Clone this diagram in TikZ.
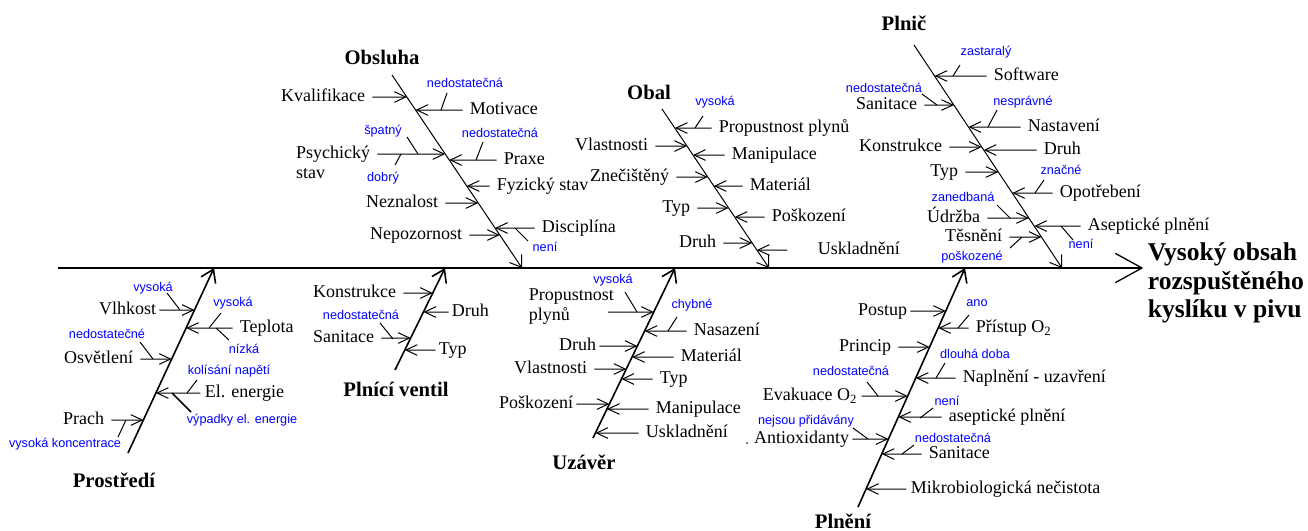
\documentclass[tikz,border=0pt]{standalone}
\usepackage{fontspec}
\setmainfont{Liberation Serif}
\newfontfamily\attrfont{Liberation Sans}
\usetikzlibrary{arrows.meta}

\tikzset{every picture/.style={line width=0.75pt}}
\tikzset{
	lbl/.style={inner sep=1pt, font=\fontsize{13.5}{15}\selectfont, text height=9.5pt, text depth=3pt},
	attr/.style={inner sep=1pt, text=blue, font=\attrfont\fontsize{9.5}{11}\selectfont, text height=7pt, text depth=2pt},
	bonetitle/.style={inner sep=1pt, font=\bfseries\fontsize{15.5}{18}\selectfont},
	effectlbl/.style={inner sep=1pt, align=left, font=\bfseries\fontsize{19.2}{21.4}\selectfont},
	spine/.style={line width=1pt, -{Straight Barb[length=20pt,width=22pt]}},
	bone/.style={-{Straight Barb[length=8pt,width=11pt]}},
	lbone/.style={line width=1.2pt, -{Straight Barb[length=9pt,width=12pt]}},
	cause/.style={-{Straight Barb[length=8.5pt,width=8pt]}, shorten <=4pt}
}

\begin{document}
\begin{tikzpicture}[x=0.75pt,y=0.75pt,yscale=-1,xscale=1]
	\useasboundingbox (0,0) rectangle (1308,531);
	
	% Effect and spine
	\node[effectlbl, anchor=west] (effect) at (1146,283) {Vysoký obsah\\rozspuštěného\\kyslíku v pivu};
	\coordinate (spA) at (58,268);
	\draw[spine, shorten >=2pt] (spA) -- (spA -| effect.west);
	
	%%%%%%%% Obsluha
	\coordinate (obsA) at (392,75);
	\coordinate (obsB) at (522,268);
	\draw[bone] (obsA) -- (obsB);
	\node[bonetitle] (obs) at (382,57) {Obsluha};
	% Text Node
	\node[lbl, anchor=east] (kval) at (367,97) {Kvalifikace};
	\node[lbl, anchor=east] (psy) at (372,154) {Psychický};
	\node[lbl, anchor=north west] (psy2) at (psy.south west) {stav};
	\node[lbl, anchor=east] (nezn) at (440,203) {Neznalost};
	\node[lbl, anchor=east] (nepoz) at (464,235) {Nepozornost};
	\node[lbl, anchor=west] (motiv) at (468,110) {Motivace};
	\node[lbl, anchor=west] (praxe) at (502,160) {Praxe};
	\node[lbl, anchor=west] (fyz) at (495,186) {Fyzický stav};
	\node[lbl, anchor=west] (disc) at (540,228) {Disciplína};
	\foreach \n in {kval,psy,nezn,nepoz,motiv,praxe,fyz,disc}
		\draw[cause] (\n) -- (intersection of obsA--obsB and \n.west--\n.east);
	% Attributes
	\draw (441,110) -- (447,93);
	\node[attr] (motivq) at (465,84) {nedostatečná};
	\draw (407,137) -- (418,154);
	\node[attr] (psyq) at (383,131) {špatný};
	\draw (401,154) -- (395,165);
	\node[attr] (psyqq) at (383,178) {dobrý};
	\draw (476,160) -- (483,142);
	\node[attr] (praxeq) at (500,134) {nedostatečná};
	\draw (515,228) -- (528,241);
	\node[attr] (discq) at (545,248) {není};
	
	%%%%%%%% Obal
	\coordinate (obalA) at (662,109);
	\coordinate (obalB) at (769,268);
	\draw[bone] (obalA) -- (obalB);
	\node[bonetitle] (obal) at (649,92) {Obal};
	% Text Node
	\node[lbl, anchor=east] (vlast) at (650,146) {Vlastnosti};
	\node[lbl, anchor=east] (znec) at (671,177) {Znečištěný};
	\node[lbl, anchor=east] (typa) at (692,208) {Typ};
	\node[lbl, anchor=east] (druha) at (718,243) {Druh};
	\node[lbl, anchor=west] (propa) at (717,128) {Propustnost plynů};
	\node[lbl, anchor=west] (manipa) at (730,155) {Manipulace};
	\node[lbl, anchor=west] (matera) at (748,186) {Materiál};
	\node[lbl, anchor=west] (poska) at (770,217) {Poškození};
	\node[lbl, anchor=west] (uskla) at (816,250) {Uskladnění};
	\foreach \n in {vlast,znec,typa,druha,propa,manipa,matera,poska}
		\draw[cause] (\n) -- (intersection of obalA--obalB and \n.west--\n.east);
	\draw[cause, shorten <=21.5pt] (uskla) -- (intersection of obalA--obalB and uskla.west--uskla.east);
	% Attributes
	\draw (695,128) -- (703,116);
	\node[attr] (propaq) at (715,102) {vysoká};
	
	%%%%%%%% Plnič
	\coordinate (plcA) at (914,45);
	\coordinate (plcB) at (1062,268);
	\draw[bone] (plcA) -- (plcB);
	\node[bonetitle] (plc) at (904,23) {Plnič};
	% Text Node
	\node[lbl, anchor=east] (sanitb) at (919,105) {Sanitace};
	\node[lbl, anchor=east] (konstb) at (944,147) {Konstrukce};
	\node[lbl, anchor=east] (typb) at (960,172) {Typ};
	\node[lbl, anchor=east] (udrz) at (982,218) {Údržba};
	\node[lbl, anchor=east] (tesn) at (1004,237) {Těsnění};
	\node[lbl, anchor=west] (softw) at (992,76) {Software};
	\node[lbl, anchor=west] (nastav) at (1026,127) {Nastavení};
	\node[lbl, anchor=west] (druhb) at (1042,150) {Druh};
	\node[lbl, anchor=west] (opotr) at (1058,193) {Opotřebení};
	\node[lbl, anchor=west] (aseptb) at (1086,226) {Aseptické plnění};
	\foreach \n in {sanitb,konstb,typb,udrz,tesn,softw,nastav,druhb,opotr,aseptb}
		\draw[cause] (\n) -- (intersection of plcA--plcB and \n.west--\n.east);
	% Attributes
	\draw (922,94) -- (937,105);
	\node[attr] (sanitbq) at (884,89) {nedostatečná};
	\draw (953,76) -- (960,65);
	\node[attr] (softwq) at (986,52) {zastaralý};
	\draw (988,127) -- (997,110);
	\node[attr] (nastavq) at (1023,102) {nesprávné};
	\draw (1035,193) -- (1044,180);
	\node[attr] (opotrq) at (1061,171) {značné};
	\draw (997,205) -- (1010,218);
	\node[attr] (udrzq) at (963,198) {zanedbaná};
	\draw (1061,226) -- (1073,240);
	\node[attr] (aseptbq) at (1081,245) {není};
	\draw (1010,248) -- (1022,237);
	\node[attr] (tesnq) at (972,257) {poškozené};
	
	%%%%%%%% Prostředí
	\coordinate (proA) at (128,453);
	\coordinate (proB) at (214,268);
	\draw[lbone] (proA) -- (proB);
	\node[bonetitle] (pro) at (114,480) {Prostředí};
	% Text Node
	\node[lbl, anchor=east] (vlhk) at (158,310) {Vlhkost};
	\node[lbl, anchor=east] (osvet) at (135,359) {Osvětlení};
	\node[lbl, anchor=east] (prach) at (106,420) {Prach};
	\node[lbl, anchor=west] (tepl) at (238,328) {Teplota};
	\node[lbl, anchor=west] (energ) at (203,393) {El. energie};
	\foreach \n in {osvet,prach,tepl}
		\draw[cause] (\n) -- (intersection of proA--proB and \n.west--\n.east);
	\draw[cause, shorten <=1pt] (vlhk) -- (intersection of proA--proB and vlhk.west--vlhk.east);
	\draw[cause, shorten <=2pt] (energ) -- (intersection of proA--proB and energ.west--energ.east);
	% Attributes
	\draw (167,293) -- (180,310);
	\node[attr] (vlhkq) at (153,288) {vysoká};
	\draw (140,342) -- (153,359);
	\node[attr] (osvetq) at (107,335) {nedostatečné};
	\draw (126,420) -- (118,437);
	\node[attr] (prachq) at (65,444) {vysoká koncentrace};
	\draw (209,328) -- (221,313);
	\node[attr] (teplq) at (233,303) {vysoká};
	\draw (216,328) -- (229,340);
	\node[attr] (teplqq) at (244,350) {nízká};
	\draw (187,393) -- (197,380);
	\node[attr] (energq) at (229,371) {kolísání napětí};
	\draw[line width=1.2pt] (172,393) -- (191,412);
	\node[attr] (energqq) at (242,420) {výpadky el. energie};
	
	%%%%%%%% Plnící ventil
	\coordinate (pvA) at (395,370);
	\coordinate (pvB) at (445,268);
	\draw[lbone] (pvA) -- (pvB);
	\node[bonetitle] (pv) at (396,389) {Plnící ventil};
	% Text Node
	\node[lbl, anchor=east] (konstc) at (398,293) {Konstrukce};
	\node[lbl, anchor=east] (sanitc) at (376,338) {Sanitace};
	\node[lbl, anchor=west] (druhc) at (450,312) {Druh};
	\node[lbl, anchor=west] (typc) at (437,350) {Typ};
	\foreach \n in {konstc,sanitc}
		\draw[cause] (\n) -- (intersection of pvA--pvB and \n.west--\n.east);
	\foreach \n in {druhc,typc}
		\draw[cause, shorten <=1pt] (\n) -- (intersection of pvA--pvB and \n.west--\n.east);
	% Attributes
	\draw (380,323) -- (393,339);
	\node[attr] (sanitcq) at (361,316) {nedostatečná};
	
	%%%%%%%% Uzávěr
	\coordinate (uzA) at (593,438);
	\coordinate (uzB) at (675,268);
	\draw[lbone] (uzA) -- (uzB);
	\node[bonetitle] (uz) at (584,462) {Uzávěr};
	% Text Node
	\node[lbl, anchor=west] (propd) at (527,296) {Propustnost};
	\node[lbl, anchor=north west] (propdd) at (propd.south west) {plynů};
	\coordinate (propds) at (608,312);
	\node[lbl, anchor=east] (druhd) at (598,346) {Druh};
	\node[lbl, anchor=east] (vlastd) at (589,369) {Vlastnosti};
	\node[lbl, anchor=east] (poskd) at (575,404) {Poškození};
	\node[lbl, anchor=west] (nasaz) at (692,331) {Nasazení};
	\node[lbl, anchor=west] (materd) at (679,357) {Materiál};
	\node[lbl, anchor=west] (typd) at (658,379) {Typ};
	\node[lbl, anchor=west] (manipd) at (654,409) {Manipulace};
	\node[lbl, anchor=west] (uskld) at (644,433) {Uskladnění};
	\draw[cause, shorten <=0pt] (propds) -- (intersection of uzA--uzB and propds--1000,312);
	\foreach \n in {vlastd,nasaz,materd,typd,manipd,uskld}
		\draw[cause] (\n) -- (intersection of uzA--uzB and \n.west--\n.east);
	\foreach \n in {druhd,poskd}
		\draw[cause, shorten <=1pt] (\n) -- (intersection of uzA--uzB and \n.west--\n.east);
	% Attributes
	\draw (625,292) -- (637,312);
	\node[attr] (propdq) at (613,280) {vysoká};
	\draw (668,331) -- (677,317);
	\node[attr] (nasazq) at (692,305) {chybné};
	
	%%%%%%%% Plnění
	\coordinate (plnA) at (858,507);
	\coordinate (plnB) at (965,268);
	\draw[lbone] (plnA) -- (plnB);
	\node[bonetitle] (pln) at (843,521) {Plnění};
	% Text Node
	\node[lbl, anchor=east] (postup) at (909,311) {Postup};
	\node[lbl, anchor=east] (princ) at (893,347) {Princip};
	\node[lbl, anchor=east] (evak) at (859,396) {Evakuace O\textsubscript{2}};
	\node[lbl, anchor=east] (antiox) at (851,439) {Antioxidanty};
	\node[lbl, anchor=west] (prist) at (974,328) {Přístup O\textsubscript{2}};
	\node[lbl, anchor=west] (napl) at (961,378) {Naplnění - uzavření};
	\node[lbl, anchor=west] (asepte) at (947,417) {aseptické plnění};
	\node[lbl, anchor=west] (sanite) at (927,454) {Sanitace};
	\node[lbl, anchor=west] (mikro) at (909,489) {Mikrobiologická nečistota};
	\foreach \n in {princ,prist,napl,asepte,sanite}
		\draw[cause] (\n) -- (intersection of plnA--plnB and \n.west--\n.east);
	\foreach \n in {postup,antiox}
		\draw[cause, shorten <=1pt] (\n) -- (intersection of plnA--plnB and \n.west--\n.east);
	\foreach \n in {evak,mikro}
		\draw[cause, shorten <=2pt] (\n) -- (intersection of plnA--plnB and \n.west--\n.east);
	\fill (747,443) circle (0.8);
	% Attributes
	\draw (958,328) -- (969,315);
	\node[attr] (pristq) at (977,303) {ano};
	\draw (936,378) -- (945,363);
	\node[attr] (naplq) at (975,355) {dlouhá doba};
	\draw (920,418) -- (933,408);
	\node[attr] (asepteq) at (947,402) {není};
	\draw (902,454) -- (914,445);
	\node[attr] (saniteq) at (953,439) {nedostatečná};
	\draw (867,382) -- (878,396);
	\node[attr] (evakq) at (851,372) {nedostatečná};
	\draw (853,428) -- (868,439);
	\node[attr] (antioxq) at (806,421) {nejsou přidávány};
	
\end{tikzpicture}
\end{document}
